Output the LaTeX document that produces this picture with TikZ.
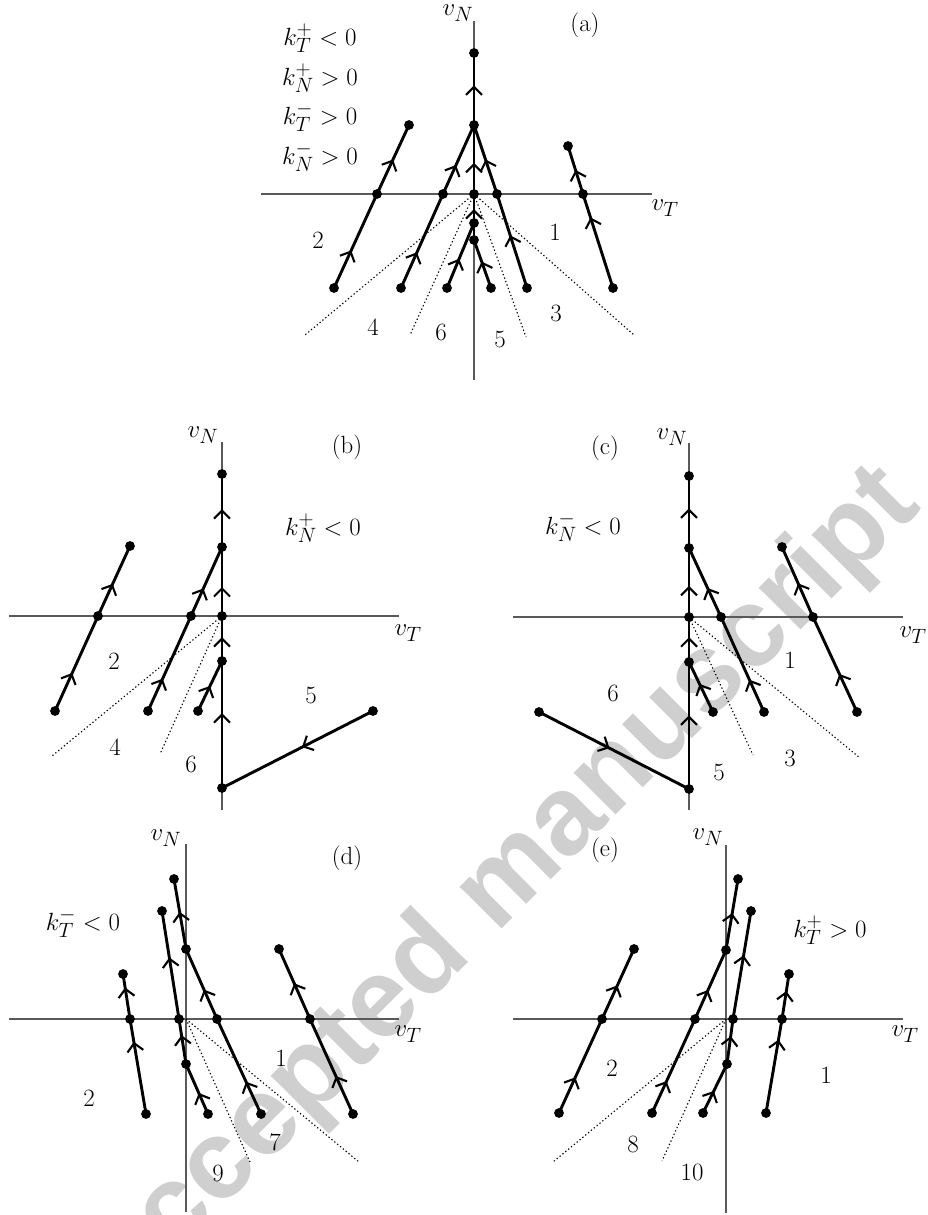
\documentclass[tikz,border=0pt]{standalone}
\usepackage{fontspec}
\newfontfamily\wmfont{Liberation Sans}
\DeclareMathSizes{24.88}{24.88}{20.74}{14.4}
\usetikzlibrary{arrows.meta,decorations.markings}
\tikzset{
  ax/.style={line width=1.2pt, draw=black!65},
  traj/.style={line width=2.9pt, line cap=round},
  dots/.style={line width=1.1pt, dash pattern=on 1.3pt off 2.4pt},
  arr/.style={postaction={decorate, decoration={markings, mark=at position #1 with {\arrow{Straight Barb[length=8pt,width=16pt,line width=2.1pt]}}}}},
  lbl/.style={font=\fontsize{24.88}{30}\selectfont, inner sep=0pt},
  wm/.style={font=\wmfont\bfseries\fontsize{112}{130}\selectfont, text=black!19, inner sep=0pt},
}
\begin{document}
\begin{tikzpicture}[x=1pt,y=-1pt]
\useasboundingbox (0,0) rectangle (928,1215);
\begin{scope}
\clip (0,0) rectangle (928,1215);
\node[wm, rotate=45] (wmark) at (500,890) {Accepted manuscript};
\end{scope}

% ================= (a) =================
\coordinate (aNt) at (474,21); \coordinate (aNb) at (474,380);
\coordinate (aTl) at (261,194); \coordinate (aTr) at (652,194);
\draw[ax] (aNb) -- (aNt); \draw[ax] (aTl) -- (aTr);
\node[lbl] (avN) at (458,13) {$v_N$};
\node[lbl] (avT) at (665,208) {$v_T$};
\node[lbl] (alab) at (585,25) {(a)};
\node[lbl] (ak1) at (320,38) {$k_T^+<0$};
\node[lbl] (ak2) at (320,78) {$k_N^+>0$};
\node[lbl] (ak3) at (320,117) {$k_T^->0$};
\node[lbl] (ak4) at (320,157) {$k_N^->0$};
\coordinate (atop) at (474,53); \coordinate (am) at (474,125);
\coordinate (ao) at (474,194); \coordinate (aL) at (409,125);
\coordinate (aR) at (568,146);
\coordinate (ax1) at (377,194); \coordinate (ax2) at (443,194);
\coordinate (ax4) at (497,194); \coordinate (ax5) at (583,194);
\coordinate (ad1) at (474,223); \coordinate (ad2) at (474,240);
\coordinate (ab1) at (334,288); \coordinate (ab2) at (401,288);
\coordinate (ab3) at (447,288); \coordinate (ab4) at (491,288);
\coordinate (ab5) at (527,288); \coordinate (ab6) at (613,288);
\coordinate (ae1) at (305,335); \coordinate (ae2) at (410,335);
\coordinate (ae3) at (526,337); \coordinate (ae4) at (634,335);
\foreach \e in {ae1,ae2,ae3,ae4} \draw[dots] (ao) -- (\e);
\draw[traj,arr=0.4] (ab1) -- (ax1);
\draw[traj,arr=0.5] (ax1) -- (aL);
\draw[traj,arr=0.38] (ab2) -- (ax2);
\draw[traj,arr=0.42] (ax2) -- (am);
\draw[traj,arr=0.45] (ao) -- (am);
\draw[traj,arr=0.55] (am) -- (atop);
\draw[traj,arr=0.56] (ab5) -- (ax4);
\draw[traj,arr=0.5] (ax4) -- (am);
\draw[traj,arr=0.75] (ab6) -- (ax5);
\draw[traj,arr=0.5] (ax5) -- (aR);
\draw[traj,arr=0.45] (ab3) -- (ad1);
\draw[traj,arr=0.55] (ab4) -- (ad2);
\draw[traj,arr=0.67] (ad2) -- (ao);
\foreach \p in {atop,am,ao,aL,aR,ax1,ax2,ax4,ax5,ad1,ad2,ab1,ab2,ab3,ab4,ab5,ab6}
  \fill (\p) circle (4.9pt);
\node[lbl] (an2) at (318,240) {2};
\node[lbl] (an1) at (555,232) {1};
\node[lbl] (an4) at (373,327) {4};
\node[lbl] (an6) at (441,332) {6};
\node[lbl] (an5) at (500,339) {5};
\node[lbl] (an3) at (556,313) {3};

% ================= (b) =================
\coordinate (bNt) at (222,442); \coordinate (bNb) at (222,810);
\coordinate (bTl) at (9,616); \coordinate (bTr) at (399,616);
\draw[ax] (bNb) -- (bNt); \draw[ax] (bTl) -- (bTr);
\node[lbl] (bvN) at (203,435) {$v_N$};
\node[lbl] (bvT) at (408,633) {$v_T$};
\node[lbl] (blab) at (347,447) {(b)};
\node[lbl] (bk) at (323,528) {$k_N^+<0$};
\coordinate (btop) at (222,474); \coordinate (bm) at (222,547);
\coordinate (bL) at (130,546); \coordinate (bx1) at (98,616);
\coordinate (bx2) at (191,616); \coordinate (bo) at (222,616);
\coordinate (bd) at (222,661); \coordinate (bb1) at (55,711);
\coordinate (bb2) at (148,711); \coordinate (bb3) at (198,711);
\coordinate (bb5) at (373,711); \coordinate (bbot) at (222,788);
\coordinate (be1) at (52,756); \coordinate (be2) at (160,754);
\foreach \e in {be1,be2} \draw[dots] (bo) -- (\e);
\draw[traj,arr=0.4] (bb1) -- (bx1);
\draw[traj,arr=0.46] (bx1) -- (bL);
\draw[traj,arr=0.34] (bb2) -- (bx2);
\draw[traj,arr=0.4] (bx2) -- (bm);
\draw[traj,arr=0.5] (bb3) -- (bd);
\draw[traj,arr=0.59] (bbot) -- (bd);
\draw[traj,arr=0.53] (bd) -- (bo);
\draw[traj,arr=0.42] (bo) -- (bm);
\draw[traj,arr=0.52] (bm) -- (btop);
\draw[traj,arr=0.47] (bb5) -- (bbot);
\foreach \p in {btop,bm,bL,bx1,bx2,bo,bd,bb1,bb2,bb3,bb5,bbot}
  \fill (\p) circle (4.9pt);
\node[lbl] (bn2) at (114,661) {2};
\node[lbl] (bn4) at (115,747) {4};
\node[lbl] (bn6) at (191,764) {6};
\node[lbl] (bn5) at (311,695) {5};

% ================= (c) =================
\coordinate (cNt) at (689,443); \coordinate (cNb) at (689,810);
\coordinate (cTl) at (513,617); \coordinate (cTr) at (903,617);
\draw[ax] (cNb) -- (cNt); \draw[ax] (cTl) -- (cTr);
\node[lbl] (cvN) at (672,437) {$v_N$};
\node[lbl] (cvT) at (913,635) {$v_T$};
\node[lbl] (clab) at (605,448) {(c)};
\node[lbl] (ck) at (583,527) {$k_N^-<0$};
\coordinate (ctop) at (689,476); \coordinate (cm) at (689,548);
\coordinate (cR) at (782,547); \coordinate (co) at (689,617);
\coordinate (cx4) at (721,617); \coordinate (cx5) at (813,617);
\coordinate (cd) at (689,662); \coordinate (cbl) at (539,712);
\coordinate (cb4) at (713,712); \coordinate (cb5) at (764,712);
\coordinate (cb6) at (857,712); \coordinate (cbot) at (689,789);
\coordinate (ce1) at (753,755); \coordinate (ce2) at (860,758);
\foreach \e in {ce1,ce2} \draw[dots] (co) -- (\e);
\draw[traj,arr=0.58] (cbot) -- (cd);
\draw[traj,arr=0.55] (cd) -- (co);
\draw[traj,arr=0.45] (co) -- (cm);
\draw[traj,arr=0.55] (cm) -- (ctop);
\draw[traj,arr=0.56] (cb4) -- (cd);
\draw[traj,arr=0.34] (cb5) -- (cx4);
\draw[traj,arr=0.42] (cx4) -- (cm);
\draw[traj,arr=0.4] (cb6) -- (cx5);
\draw[traj,arr=0.48] (cx5) -- (cR);
\draw[traj,arr=0.47] (cbl) -- (cbot);
\foreach \p in {ctop,cm,cR,co,cx4,cx5,cd,cbl,cb4,cb5,cb6,cbot}
  \fill (\p) circle (4.9pt);
\node[lbl] (cn1) at (790,660) {1};
\node[lbl] (cn6) at (613,693) {6};
\node[lbl] (cn5) at (719,772) {5};
\node[lbl] (cn3) at (790,758) {3};

% ================= (d) =================
\coordinate (dNt) at (186,844); \coordinate (dNb) at (186,1212);
\coordinate (dTl) at (9,1019); \coordinate (dTr) at (399,1019);
\draw[ax] (dNb) -- (dNt); \draw[ax] (dTl) -- (dTr);
\node[lbl] (dvN) at (166,838) {$v_N$};
\node[lbl] (dvT) at (408,1034) {$v_T$};
\node[lbl] (dlab) at (347,858) {(d)};
\node[lbl] (dk) at (83,923) {$k_T^-<0$};
\coordinate (da) at (174,879); \coordinate (db) at (162,911);
\coordinate (dc) at (186,949); \coordinate (dR) at (279,949);
\coordinate (dL) at (123,974); \coordinate (dx1) at (130,1019);
\coordinate (dx2) at (179,1019); \coordinate (dx3) at (217,1019);
\coordinate (dx4) at (310,1019); \coordinate (do) at (186,1019);
\coordinate (dd) at (186,1064); \coordinate (db1) at (146,1114);
\coordinate (db2) at (208,1114); \coordinate (db3) at (261,1114);
\coordinate (db4) at (353,1114);
\coordinate (de1) at (250,1162); \coordinate (de2) at (359,1162);
\foreach \e in {de1,de2} \draw[dots] (do) -- (\e);
\draw[traj,arr=0.76] (db1) -- (dx1);
\draw[traj,arr=0.7] (dx1) -- (dL);
\draw[traj,arr=0.64] (dd) -- (dx2);
\draw[traj,arr=0.57] (dx2) -- (db);
\draw[traj,arr=0.53] (dc) -- (da);
\draw[traj,arr=0.42] (db2) -- (dd);
\draw[traj,arr=0.34] (db3) -- (dx3);
\draw[traj,arr=0.42] (dx3) -- (dc);
\draw[traj,arr=0.4] (db4) -- (dx4);
\draw[traj,arr=0.51] (dx4) -- (dR);
\foreach \p in {da,db,dc,dR,dL,dx1,dx2,dx3,dx4,dd,db1,db2,db3,db4}
  \fill (\p) circle (4.9pt);
\node[lbl] (dn2) at (89,1098) {2};
\node[lbl] (dn1) at (281,1058) {1};
\node[lbl] (dn7) at (275,1142) {7};
\node[lbl] (dn9) at (218,1173) {9};

% ================= (e) =================
\coordinate (eNt) at (726,845); \coordinate (eNb) at (726,1213);
\coordinate (eTl) at (513,1019); \coordinate (eTr) at (903,1019);
\draw[ax] (eNb) -- (eNt); \draw[ax] (eTl) -- (eTr);
\node[lbl] (evN) at (708,837) {$v_N$};
\node[lbl] (evT) at (905,1034) {$v_T$};
\node[lbl] (elab) at (605,850) {(e)};
\node[lbl] (ek) at (830,930) {$k_T^+>0$};
\coordinate (ea) at (738,879); \coordinate (eb) at (751,911);
\coordinate (ec) at (726,950); \coordinate (eL) at (634,949);
\coordinate (eR) at (789,974); \coordinate (ex1) at (602,1019);
\coordinate (ex2) at (695,1019); \coordinate (ex3) at (733,1019);
\coordinate (ex4) at (782,1019); \coordinate (eo) at (726,1019);
\coordinate (ed) at (727,1064); \coordinate (eb1) at (559,1113);
\coordinate (eb2) at (652,1113); \coordinate (eb3) at (703,1113);
\coordinate (eb4) at (766,1113);
\coordinate (ee1) at (553,1162); \coordinate (ee2) at (662,1161);
\foreach \e in {ee1,ee2} \draw[dots] (eo) -- (\e);
\draw[traj,arr=0.38] (eb1) -- (ex1);
\draw[traj,arr=0.48] (ex1) -- (eL);
\draw[traj,arr=0.34] (eb2) -- (ex2);
\draw[traj,arr=0.42] (ex2) -- (ec);
\draw[traj,arr=0.52] (ec) -- (ea);
\draw[traj,arr=0.45] (eb3) -- (ed);
\draw[traj,arr=0.62] (ed) -- (ex3);
\draw[traj,arr=0.59] (ex3) -- (eb);
\draw[traj,arr=0.78] (eb4) -- (ex4);
\draw[traj,arr=0.62] (ex4) -- (eR);
\foreach \p in {ea,eb,ec,eL,eR,ex1,ex2,ex3,ex4,ed,eb1,eb2,eb3,eb4}
  \fill (\p) circle (4.9pt);
\node[lbl] (en2) at (612,1068) {2};
\node[lbl] (en1) at (826,1075) {1};
\node[lbl] (en8) at (633,1144) {8};
\node[lbl] (en10) at (692,1172) {10};
\end{tikzpicture}
\end{document}
